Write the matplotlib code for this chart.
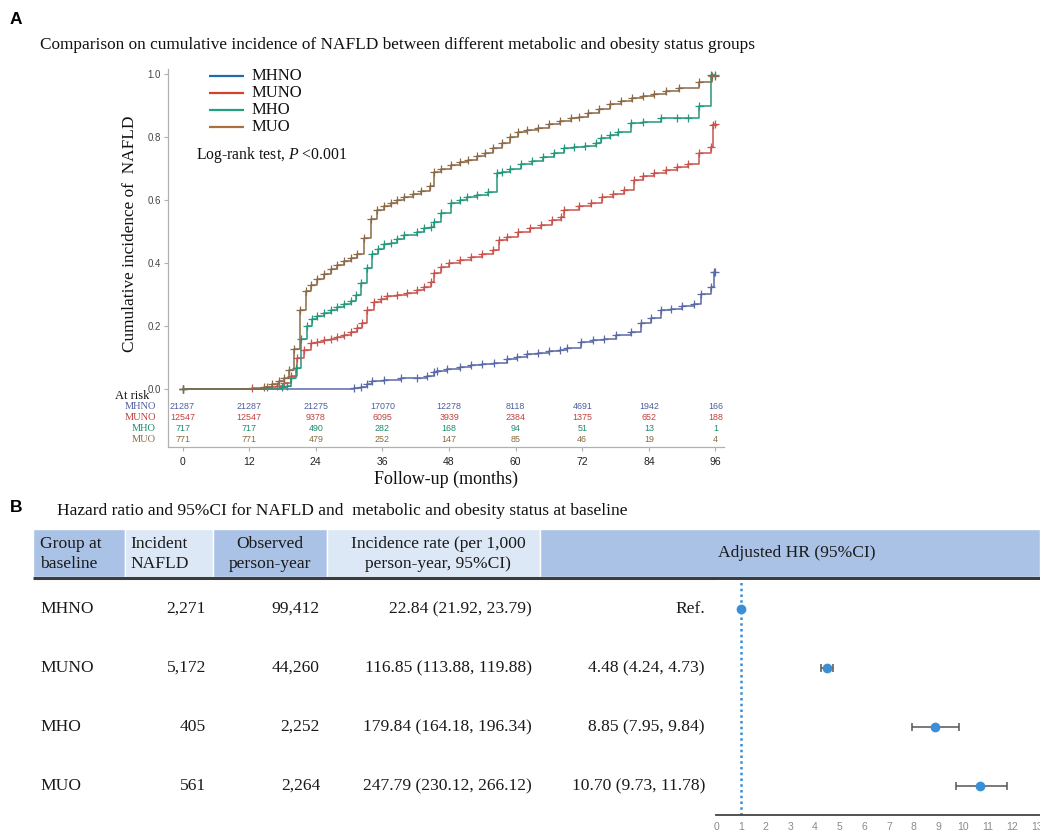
import matplotlib
matplotlib.use("Agg")
import matplotlib.pyplot as plt
from matplotlib.patches import Rectangle
import numpy as np

plt.rcParams["mathtext.fontset"] = "custom"
plt.rcParams["mathtext.rm"] = "Liberation Serif"
plt.rcParams["mathtext.it"] = "Liberation Serif:italic"

# ---------------- Data: panel A (Kaplan-Meier cumulative incidence) ----------------
groups = ["MHNO", "MUNO", "MHO", "MUO"]

mhno_t = [0, 30.9, 32.1, 33.3, 34.2, 36.3, 39.3, 42.3, 44.1, 45.3, 45.9, 47.7, 50, 52, 54, 56.1,
          58.5, 60.3, 62, 64, 66, 68, 69.3, 71.7, 74, 76, 78, 80.7, 82.5, 84.3, 86.1, 88, 90,
          92.1, 93.3, 95.1, 95.7, 96]
mhno_v = [0, 0.002, 0.005, 0.015, 0.025, 0.03, 0.034, 0.035, 0.04, 0.055, 0.058, 0.065, 0.07,
          0.075, 0.08, 0.081, 0.095, 0.102, 0.11, 0.115, 0.12, 0.125, 0.129, 0.15, 0.155, 0.16,
          0.17, 0.18, 0.208, 0.225, 0.25, 0.255, 0.262, 0.271, 0.303, 0.325, 0.372, 0.372]

muno_t = [0, 12.6, 15.3, 17.1, 18.3, 19.5, 20.7, 21.9, 23.1, 24.3, 25.5, 26.7, 27.9, 29.1, 30.3,
          31.5, 32.4, 33.3, 34.5, 35.7, 36.9, 38.7, 40.5, 42.3, 43.5, 44.7, 45.3, 46.5, 48, 50,
          52, 54, 56, 57, 58.5, 60.5, 62.5, 64.5, 66.5, 68.1, 68.7, 71.5, 73.5, 75.5, 77.5, 79.5,
          81.3, 83, 85, 87, 89, 91, 93, 95.1, 95.5, 96]
muno_v = [0, 0.002, 0.005, 0.01, 0.02, 0.04, 0.10, 0.125, 0.145, 0.15, 0.155, 0.16, 0.165, 0.17,
          0.18, 0.195, 0.21, 0.25, 0.275, 0.285, 0.295, 0.30, 0.305, 0.315, 0.325, 0.34, 0.367,
          0.388, 0.40, 0.41, 0.42, 0.43, 0.441, 0.473, 0.484, 0.50, 0.51, 0.52, 0.535, 0.547,
          0.568, 0.58, 0.59, 0.61, 0.62, 0.632, 0.664, 0.675, 0.685, 0.695, 0.705, 0.715, 0.748,
          0.769, 0.838, 0.84]

mho_t = [0, 18, 18.9, 19.5, 20.4, 21.3, 22.5, 23.4, 24.3, 25.5, 26.7, 27.9, 29.1, 30.3, 31.2,
         32.1, 33.3, 34.2, 35.2, 36.3, 37.5, 38.7, 39.9, 42.3, 43.5, 44.7, 45.3, 46.5, 48.3, 50,
         51.3, 53, 55, 56.7, 57.5, 59, 61, 63, 65, 67, 68.7, 70.5, 72.5, 74.5, 75.3, 77, 78.5,
         80.7, 83, 86.1, 89, 91, 93, 95.1, 96]
mho_v = [0, 0.005, 0.01, 0.035, 0.066, 0.16, 0.20, 0.222, 0.232, 0.24, 0.25, 0.26, 0.27, 0.28,
         0.30, 0.335, 0.385, 0.43, 0.445, 0.46, 0.465, 0.475, 0.49, 0.50, 0.51, 0.515, 0.531,
         0.558, 0.589, 0.60, 0.61, 0.615, 0.626, 0.685, 0.69, 0.70, 0.715, 0.725, 0.735, 0.748,
         0.764, 0.768, 0.772, 0.78, 0.796, 0.805, 0.817, 0.844, 0.848, 0.86, 0.86, 0.86, 0.897,
         0.997, 0.997]

muo_t = [0, 14.7, 16.2, 17.4, 18.3, 19.2, 20.1, 21.1, 22.3, 23.1, 24.3, 25.5, 26.7, 27.9, 29.1,
         30.3, 31.5, 32.7, 34.0, 35.0, 36.3, 37.5, 38.7, 39.9, 41.5, 43.0, 44.5, 45.3, 46.5,
         48.3, 50, 51.5, 53, 54.5, 56, 57.5, 59, 60.5, 62, 64, 66, 68, 70, 71.5, 73, 75, 77, 79,
         81, 83, 85, 87, 89.5, 93, 95.3, 96]
muo_v = [0, 0.005, 0.015, 0.025, 0.035, 0.06, 0.128, 0.25, 0.312, 0.33, 0.35, 0.365, 0.38,
         0.395, 0.405, 0.415, 0.43, 0.48, 0.54, 0.567, 0.58, 0.59, 0.60, 0.61, 0.62, 0.63, 0.645,
         0.69, 0.70, 0.71, 0.72, 0.727, 0.74, 0.75, 0.765, 0.78, 0.80, 0.815, 0.822, 0.83, 0.84,
         0.85, 0.86, 0.865, 0.875, 0.89, 0.905, 0.915, 0.923, 0.93, 0.938, 0.945, 0.954, 0.975,
         0.993, 0.995]

risk_times = [0, 12, 24, 36, 48, 60, 72, 84, 96]
risk_mhno = [21287, 21287, 21275, 17070, 12278, 8118, 4691, 1942, 166]
risk_muno = [12547, 12547, 9378, 6095, 3939, 2384, 1375, 652, 188]
risk_mho = [717, 717, 490, 282, 168, 94, 51, 13, 1]
risk_muo = [771, 771, 479, 252, 147, 85, 46, 19, 4]

# ---------------- Data: panel B (table + forest) ----------------
tab_groups = ["MHNO", "MUNO", "MHO", "MUO"]
incident = ["2,271", "5,172", "405", "561"]
person_year = ["99,412", "44,260", "2,252", "2,264"]
inc_rate = ["22.84 (21.92, 23.79)", "116.85 (113.88, 119.88)",
            "179.84 (164.18, 196.34)", "247.79 (230.12, 266.12)"]
hr_text = ["Ref.", "4.48 (4.24, 4.73)", "8.85 (7.95, 9.84)", "10.70 (9.73, 11.78)"]
hr = [1.0, 4.48, 8.85, 10.70]
hr_lo = [1.0, 4.24, 7.95, 9.73]
hr_hi = [1.0, 4.73, 9.84, 11.78]

# ---------------- Style ----------------
SERIF = ["Liberation Serif", "DejaVu Serif"]
SANS = ["Liberation Sans", "DejaVu Sans"]
curve_cols = ["#5b6aa6", "#c9544f", "#24977c", "#8b6a47"]
legend_cols = ["#2468ad", "#d8402c", "#22a080", "#a8703f"]
risk_cols = ["#4d5d9e", "#c0413b", "#1f8a6c", "#8a6a42"]

W, H = 1040, 832
fig = plt.figure(figsize=(W / 100, H / 100), dpi=100)

def fx(px):
    return px / W

def fy(py):
    return 1 - py / H

# ---------------- Panel A ----------------
x0_px, x96_px = 182.5, 715.5
y0_px, y1_px = 389, 74
ax_l, ax_r, ax_t, ax_b = 168, 724, 69, 447
ppm = (x96_px - x0_px) / 96.0
ppv = (y0_px - y1_px)
xlim = ((ax_l - x0_px) / ppm, (ax_r - x0_px) / ppm)
ylim = ((y0_px - ax_b) / ppv, (y0_px - ax_t) / ppv)

ax = fig.add_axes([fx(ax_l), fy(ax_b), fx(ax_r - ax_l), (ax_b - ax_t) / H])
ax.set_xlim(*xlim)
ax.set_ylim(*ylim)
for s in ["top", "right"]:
    ax.spines[s].set_visible(False)
ax.spines["left"].set_color("#b0b0b0")
ax.spines["bottom"].set_color("#b0b0b0")
ax.spines["left"].set_linewidth(0.9)
ax.spines["bottom"].set_linewidth(0.9)
ax.set_yticks([0.0, 0.2, 0.4, 0.6, 0.8, 1.0])
ax.set_yticklabels(["0.0", "0.2", "0.4", "0.6", "0.8", "1.0"])
ax.set_xticks(risk_times)
ax.tick_params(axis="y", length=3, width=0.8, color="#b0b0b0", labelsize=7,
               labelcolor="#444444", pad=2)
ax.tick_params(axis="x", length=3, width=0.8, color="#b0b0b0", labelsize=7.5,
               labelcolor="#222222", pad=4)
for lab in ax.get_xticklabels() + ax.get_yticklabels():
    lab.set_family(SANS)

series = [(mhno_t, mhno_v), (muno_t, muno_v), (mho_t, mho_v), (muo_t, muo_v)]
for (t, v), c in zip(series, curve_cols):
    ax.step(t, v, where="post", color=c, lw=1.1, zorder=3)
    ax.plot(t, v, ls="none", marker="+", ms=6, mew=0.9, color=c, zorder=3)

# legend (manual, to match layout)
leg_y = [76, 93, 110, 127]
for g, c, py in zip(groups, legend_cols, leg_y):
    yy = (y0_px - py) / ppv
    ax.plot([(209 - x0_px) / ppm, (244 - x0_px) / ppm], [yy, yy], color=c, lw=1.6,
            solid_capstyle="butt")
    ax.text((252 - x0_px) / ppm, yy, g, family=SERIF, fontsize=12, va="center",
            ha="left", color="#111111")
ax.text((196 - x0_px) / ppm, (y0_px - 155) / ppv, "Log-rank test, $\\it{P}$ <0.001",
        family=SERIF, fontsize=11.3, va="center", ha="left", color="#111111")

# at-risk table
ax.text((149 - x0_px) / ppm, (y0_px - 396) / ppv, "At risk", family=SERIF, fontsize=9,
        ha="right", va="center", color="#111111", clip_on=False)
risks = [risk_mhno, risk_muno, risk_mho, risk_muo]
row_py = [406.5, 417.5, 428.5, 439.5]
for g, r, c, py in zip(groups, risks, risk_cols, row_py):
    yy = (y0_px - py) / ppv
    ax.text((156 - x0_px) / ppm, yy, g, family=SERIF, fontsize=7.5, ha="right",
            va="center", color=c, clip_on=False)
    for t, n in zip(risk_times, r):
        ax.text(t, yy, str(n), family=SANS, fontsize=6.4, ha="center", va="center",
                color=c)

ax.set_ylabel("Cumulative incidence of  NAFLD", family=SERIF, fontsize=12.4,
              color="#111111")
ax.yaxis.set_label_coords((138 - ax_l) / (ax_r - ax_l), (ax_b - 234) / (ax_b - ax_t))
ax.set_xlabel("Follow-up (months)", family=SERIF, fontsize=13, color="#111111", labelpad=3)

fig.text(fx(10), fy(20), "A", family=SANS, fontsize=12.5, fontweight="bold",
         ha="left", va="center")
fig.text(fx(40), fy(45), "Comparison on cumulative incidence of NAFLD between different "
         "metabolic and obesity status groups", family=SERIF, fontsize=12.4, ha="left",
         va="center", color="#111111")

# ---------------- Panel B ----------------
fig.text(fx(10), fy(508), "B", family=SANS, fontsize=12.5, fontweight="bold",
         ha="left", va="center")
fig.text(fx(57), fy(511), "Hazard ratio and 95%CI for NAFLD and  metabolic and obesity "
         "status at baseline", family=SERIF, fontsize=12.5, ha="left", va="center",
         color="#111111")

tab = fig.add_axes([0, 0, 1, 1], zorder=-1)
tab.set_xlim(0, W)
tab.set_ylim(H, 0)
tab.axis("off")

dark_bg, light_bg = "#aac2e5", "#dce8f5"
col_edges = [33, 125, 213, 327, 540, 1040]
col_bgs = [dark_bg, light_bg, dark_bg, light_bg, dark_bg]
for (a, b), bg in zip(zip(col_edges[:-1], col_edges[1:]), col_bgs):
    tab.add_patch(Rectangle((a, 529), b - a, 48, facecolor=bg, edgecolor="white", lw=1.0))
tab.plot([33, 1040], [578, 578], color="#3c3c3c", lw=2.2, solid_capstyle="butt")

hdr_kw = dict(family=SERIF, fontsize=12.6, va="center", color="#1a1a1a",
              linespacing=1.3)
tab.text(40, 554, "Group at\nbaseline", ha="left", **hdr_kw)
tab.text(130, 554, "Incident\nNAFLD", ha="left", **hdr_kw)
tab.text(270, 554, "Observed\nperson-year", ha="center", multialignment="center", **hdr_kw)
tab.text(438, 554, "Incidence rate (per 1,000\nperson-year, 95%CI)", ha="center",
         multialignment="center", **hdr_kw)
tab.text(797, 553, "Adjusted HR (95%CI)", ha="center", **hdr_kw)

row_y = [609, 668, 727, 786]
cell_kw = dict(family=SERIF, fontsize=12.6, va="center", color="#1a1a1a")
for i, yy in enumerate(row_y):
    tab.text(40, yy, tab_groups[i], ha="left", **cell_kw)
    tab.text(206, yy, incident[i], ha="right", **cell_kw)
    tab.text(320, yy, person_year[i], ha="right", **cell_kw)
    tab.text(532, yy, inc_rate[i], ha="right", **cell_kw)
    tab.text(705, yy, hr_text[i], ha="right", **cell_kw)

# forest plot
f_x0, f_ppu = 716.0, 24.7
f_top, f_bot = 580, 815
fa = fig.add_axes([fx(f_x0), fy(f_bot), fx(W - f_x0), (f_bot - f_top) / H])
fa.set_xlim(0, (W - f_x0) / f_ppu)
rows = np.arange(len(hr))
fa.set_ylim(3 + (f_bot - row_y[3]) / 59.0, -(row_y[0] - f_top) / 59.0)
for s in ["top", "right", "left"]:
    fa.spines[s].set_visible(False)
fa.spines["bottom"].set_color("#444444")
fa.spines["bottom"].set_linewidth(1.3)
fa.set_yticks([])
fa.set_xticks(range(0, 14))
fa.tick_params(axis="x", length=0, labelsize=7.5, labelcolor="#8a8a8a", pad=5)
for lab in fa.get_xticklabels():
    lab.set_family(SANS)
fa.axvline(1, color="#3a8fd6", lw=1.8, ls=(0, (1, 1.3)), zorder=1)
lo_err = np.array(hr) - np.array(hr_lo)
hi_err = np.array(hr_hi) - np.array(hr)
fa.errorbar(hr[1:], rows[1:], xerr=[lo_err[1:], hi_err[1:]], fmt="none",
            ecolor="#555555", elinewidth=1.1, capsize=3, capthick=1.1, zorder=2)
fa.plot(hr, rows, ls="none", marker="o", ms=6, color="#3b8fd5", zorder=3)

fig.savefig("out.png", dpi=100)
